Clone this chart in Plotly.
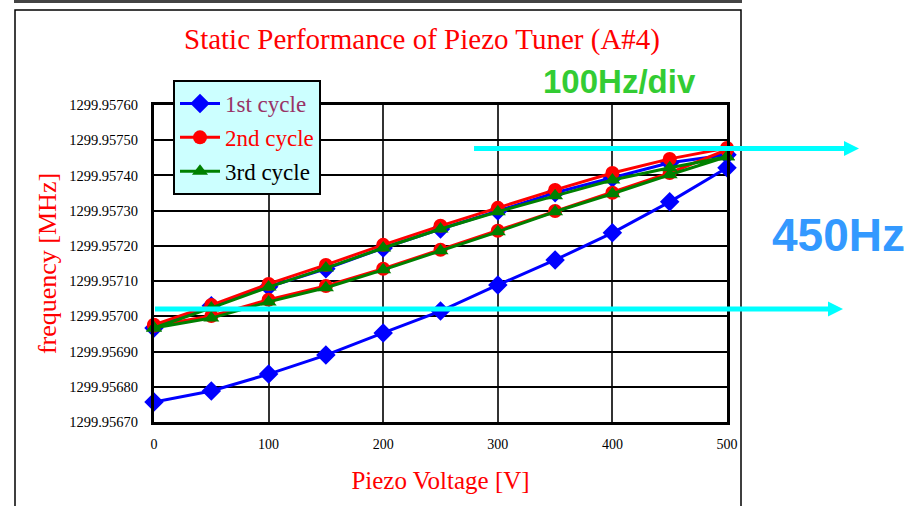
import plotly.graph_objects as go

# ---------------- data ----------------
voltage_up = [0, 50, 100, 150, 200, 250, 300, 350, 400, 450, 500]
voltage_down = [500, 450, 400, 350, 300, 250, 200, 150, 100, 50, 0]
voltage = voltage_up + voltage_down

cycle1_up = [1299.956757, 1299.956788, 1299.956836, 1299.956890, 1299.956953, 1299.957015,
             1299.957089, 1299.957160, 1299.957237, 1299.957325, 1299.957422]
cycle1_down = [1299.957459, 1299.957436, 1299.957393, 1299.957351, 1299.957299, 1299.957248,
               1299.957194, 1299.957135, 1299.957084, 1299.957030, 1299.956967]

cycle2_up = [1299.956973, 1299.957001, 1299.957047, 1299.957086, 1299.957135, 1299.957189,
             1299.957243, 1299.957299, 1299.957351, 1299.957407, 1299.957473]
cycle2_down = [1299.957478, 1299.957447, 1299.957407, 1299.957359, 1299.957308, 1299.957257,
               1299.957203, 1299.957146, 1299.957092, 1299.957032, 1299.956976]

cycle3_up = [1299.956967, 1299.956995, 1299.957041, 1299.957081, 1299.957132, 1299.957186,
             1299.957240, 1299.957297, 1299.957348, 1299.957402, 1299.957453]
cycle3_down = [1299.957453, 1299.957422, 1299.957387, 1299.957342, 1299.957297, 1299.957248,
               1299.957194, 1299.957137, 1299.957083, 1299.957024, 1299.956967]

series_names = ["1st cycle", "2nd cycle", "3rd cycle"]
series_values = [cycle1_up + cycle1_down, cycle2_up + cycle2_down, cycle3_up + cycle3_down]
series_colors = ["#0000FF", "#FF0000", "#008000"]
series_symbols = ["diamond", "circle", "triangle-up"]
series_sizes = [15, 14, 14]
legend_text_colors = ["#993366", "#FF0000", "#000000"]

x_ticks = [0, 100, 200, 300, 400, 500]
y_min, y_max, y_step = 1299.9567, 1299.9576, 0.0001

title_text = "Static Performance of Piezo Tuner (A#4)"
x_title = "Piezo Voltage [V]"
y_title = "frequency [MHz]"
note_div = "100Hz/div"
note_span = "450Hz"

# ---------------- layout geometry (pixels) ----------------
W, H = 906, 506
L, R, T, B = 154, 727, 105, 422


def px(xp):
    return (xp - L) / (R - L)


def py(yp):
    return (B - yp) / (B - T)


fig = go.Figure()
for name, vals, col, sym, sz, tcol in zip(series_names, series_values, series_colors,
                                         series_symbols, series_sizes, legend_text_colors):
    fig.add_trace(go.Scatter(
        x=voltage, y=vals, mode="lines+markers",
        name=f"<span style='color:{tcol}'>{name}</span>",
        legendgroup=name,
        line=dict(color=col, width=3),
        marker=dict(symbol=sym, size=sz, color=col, line=dict(width=0)),
        cliponaxis=False,
    ))

serif = "Liberation Serif, Times New Roman, serif"

fig.update_layout(
    width=W, height=H,
    margin=dict(l=L, r=W - R, t=T, b=H - B, pad=0),
    paper_bgcolor="white", plot_bgcolor="white",
    showlegend=True,
    legend=dict(
        x=px(173), y=py(80), xanchor="left", yanchor="top",
        bgcolor="#CCFFFF", bordercolor="black", borderwidth=2,
        font=dict(family=serif, size=23, color="black"),
        tracegroupgap=1, traceorder="grouped",
        itemwidth=40,
    ),
    xaxis=dict(
        range=[0, 500], tickvals=x_ticks, ticktext=[str(v) for v in x_ticks],
        showgrid=True, gridcolor="#333333", gridwidth=2,
        showline=True, linecolor="black", linewidth=3, mirror=True,
        ticks="outside", ticklen=7, tickcolor="rgba(0,0,0,0)",
        tickfont=dict(family=serif, size=14, color="black"),
        zeroline=False,
        title=dict(text=x_title, font=dict(family=serif, size=25, color="#FF0000"), standoff=21),
    ),
    yaxis=dict(
        range=[y_min, y_max], tick0=y_min, dtick=y_step, tickformat=".5f",
        showgrid=True, gridcolor="black", gridwidth=2,
        showline=True, linecolor="black", linewidth=3, mirror=True,
        ticks="outside", ticklen=10, tickcolor="rgba(0,0,0,0)",
        tickfont=dict(family=serif, size=14.5, color="black"),
        zeroline=False,
        title=dict(text=y_title, font=dict(family=serif, size=26, color="#FF0000"), standoff=6),
    ),
)

# title and notes
fig.add_annotation(text=title_text, xref="paper", yref="paper", x=px(422), y=py(40),
                   showarrow=False, xanchor="center", yanchor="middle",
                   font=dict(family=serif, size=29, color="#FF0000"))
fig.add_annotation(text=f"<b>{note_div}</b>", xref="paper", yref="paper", x=px(619), y=py(81),
                   showarrow=False, xanchor="center", yanchor="middle",
                   font=dict(family="Liberation Sans, Arial, sans-serif", size=33, color="#33CC33"))
fig.add_annotation(text=f"<b>{note_span}</b>", xref="paper", yref="paper", x=px(838), y=py(235),
                   showarrow=False, xanchor="center", yanchor="middle",
                   font=dict(family="Liberation Sans, Arial, sans-serif", size=46, color="#3399FF"))

# outer frame
fig.add_shape(type="rect", xref="paper", yref="paper", x0=px(15), x1=px(741), y0=py(10), y1=py(520),
              line=dict(color="black", width=1.5), fillcolor="rgba(0,0,0,0)", layer="below")
fig.add_shape(type="line", xref="paper", yref="paper", x0=px(14), x1=px(742), y0=py(1.5), y1=py(1.5),
              line=dict(color="#444444", width=3))

# cyan arrows
for x0, x1, yy in [(474, 845, 148.5), (155, 829, 309)]:
    fig.add_shape(type="line", xref="paper", yref="paper", x0=px(x0), x1=px(x1), y0=py(yy), y1=py(yy),
                  line=dict(color="#00FFFF", width=5), layer="above")
    tip = x1 + 14
    path = (f"M {px(x1 - 1)} {py(yy - 7.5)} L {px(tip)} {py(yy)} L {px(x1 - 1)} {py(yy + 7.5)} Z")
    fig.add_shape(type="path", xref="paper", yref="paper", path=path,
                  fillcolor="#00FFFF", line=dict(color="#00FFFF", width=0), layer="above")

fig.write_html("out.html")
